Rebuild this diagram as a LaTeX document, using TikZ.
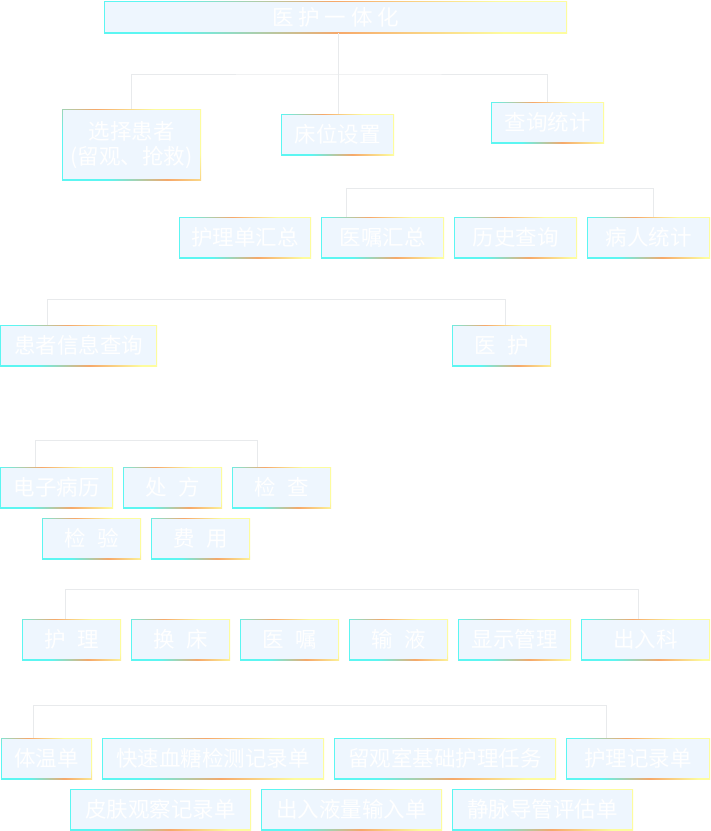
\documentclass[tikz,border=0pt]{standalone}
\usepackage{fontspec}
\newfontfamily\cjk{Noto Sans CJK SC}
\usepackage{tikz}
\definecolor{edgecyan}{HTML}{5CF6F2}
\definecolor{edgeorange}{HTML}{F6A86A}
\definecolor{edgeyellow}{HTML}{FDFC9E}
\definecolor{boxfill}{HTML}{EEF6FE}
\definecolor{linkgray}{HTML}{E8EAEC}
\pgfdeclarehorizontalshading{edgeglow}{100bp}{color(0bp)=(edgecyan); color(30bp)=(edgecyan); color(50bp)=(edgeorange); color(70bp)=(edgeyellow); color(100bp)=(edgeyellow)}
\tikzset{
  card/.style 2 args={shading=edgeglow,
    /utils/exec={\pgfmathsetmacro\edgeangle{atan(2*#2/#1)}},
    shading angle=\edgeangle,
    minimum width=#1pt, minimum height=#2pt, inner sep=0pt, anchor=north west,
    text=white, font=\cjk\fontsize{21.5}{25}\selectfont, align=center,
    path picture={\fill[boxfill] ([shift={(1pt,1pt)}]path picture bounding box.south west) rectangle ([shift={(-1pt,-1pt)}]path picture bounding box.north east);}},
  link/.style={draw=linkgray, line width=1pt}
}

\begin{document}
\begin{tikzpicture}[x=1pt,y=1pt,yscale=-1]
	\fill[white] (0,0) rectangle (711,831);
	\useasboundingbox (0,0) rectangle (711,831);
	\node[card={463}{32}] (title) at (104,1) {医 护 一 体 化};
	\node[card={139}{71}] (xzhz) at (62,109) {选择患者\\(留观、抢救)};
	\node[card={113}{41}] (cwsz) at (281,114) {床位设置};
	\node[card={113}{41}] (cxtj) at (491,102) {查询统计};
	\node[card={132}{41}] (hldhz) at (179,217) {护理单汇总};
	\node[card={123}{41}] (yzhz) at (321,217) {医嘱汇总};
	\node[card={123}{41}] (lscx) at (454,217) {历史查询};
	\node[card={123}{41}] (brtj) at (587,217) {病人统计};
	\node[card={157}{41}] (hzxx) at (0,325) {患者信息查询};
	\node[card={99}{41}] (yh) at (452,325) {医\enspace 护};
	\node[card={113}{41}] (dzbl) at (0,467) {电子病历};
	\node[card={99}{41}] (cf) at (123,467) {处\enspace 方};
	\node[card={99}{41}] (jc) at (232,467) {检\enspace 查};
	\node[card={99}{41}] (jy) at (42,518) {检\enspace 验};
	\node[card={99}{41}] (fy) at (151,518) {费\enspace 用};
	\node[card={99}{41}] (hl) at (22,619) {护\enspace 理};
	\node[card={99}{41}] (hc) at (131,619) {换\enspace 床};
	\node[card={99}{41}] (yz) at (240,619) {医\enspace 嘱};
	\node[card={99}{41}] (sy) at (349,619) {输\enspace 液};
	\node[card={113}{41}] (xsgl) at (458,619) {显示管理};
	\node[card={129}{41}] (crk) at (581,619) {出入科};
	\node[card={91}{41}] (twd) at (1,738) {体温单};
	\node[card={222}{41}] (ksxt) at (102,738) {快速血糖检测记录单};
	\node[card={222}{41}] (lgs) at (334,738) {留观室基础护理任务};
	\node[card={144}{41}] (hljld) at (566,738) {护理记录单};
	\node[card={181}{41}] (pfgc) at (70,789) {皮肤观察记录单};
	\node[card={181}{41}] (cryl) at (261,789) {出入液量输入单};
	\node[card={181}{41}] (jmdg) at (452,789) {静脉导管评估单};
	\coordinate (topbus) at (338,74);
	\draw[link] (title.south -| topbus) -- (cwsz.north -| topbus);
	\draw[link] (xzhz.north) |- (topbus) -| (cxtj.north);
	\draw[link] ([xshift=-36.5pt]yzhz.north) -- ++(0,-29) -| ([xshift=4.5pt]brtj.north);
	\draw[link] ([xshift=-31pt]hzxx.north) -- ++(0,-26) -| ([xshift=4pt]yh.north);
	\draw[link] ([xshift=-21pt]dzbl.north) -- ++(0,-27) -| ([xshift=-24pt]jc.north);
	\draw[link] ([xshift=-6pt]hl.north) -- ++(0,-30) -| ([xshift=-7pt]crk.north);
	\draw[link] ([xshift=-13.5pt]twd.north) -- ++(0,-33) -| ([xshift=-32pt]hljld.north);
\end{tikzpicture}
\end{document}
